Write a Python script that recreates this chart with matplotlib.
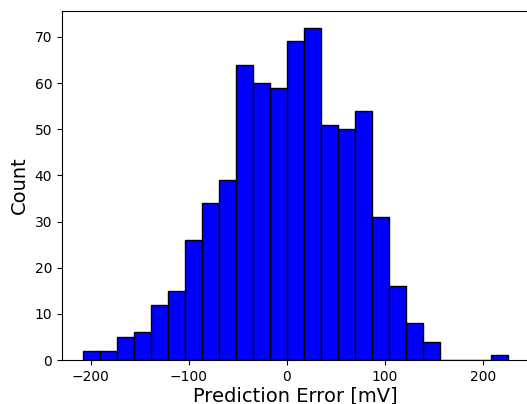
import numpy as np
import matplotlib
matplotlib.use("Agg")
import matplotlib.pyplot as plt

# Histogram of prediction errors (counts per bin)
bin_start = -207.5
bin_width = 17.34
counts = [2, 2, 5, 6, 12, 15, 26, 34, 39, 64, 60, 59, 69, 72,
          51, 50, 54, 31, 16, 8, 4, 0, 0, 0, 1]

edges = bin_start + bin_width * np.arange(len(counts) + 1)
centers = 0.5 * (edges[:-1] + edges[1:])

fig = plt.figure(figsize=(5.27, 4.04), dpi=100)
W, H = 527, 404
left, right, bottom, top = 62, 529.5, 360, 11
ax = fig.add_axes([left / W, (H - bottom) / H, (right - left) / W, (bottom - top) / H])

ax.hist(centers, bins=edges, weights=counts, color="blue", edgecolor="black")
ax.set_xlabel("Prediction Error [mV]", fontsize=14, labelpad=2)
ax.set_ylabel("Count", fontsize=14, labelpad=4)

fig.savefig("out.png", dpi=100)
